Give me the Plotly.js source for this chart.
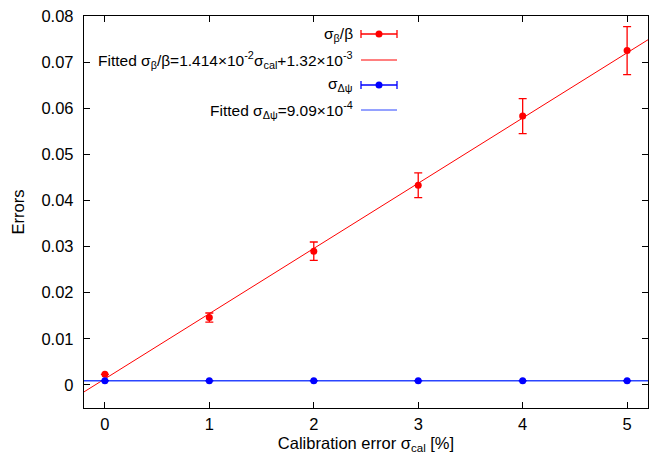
<!DOCTYPE html>
<html><head><meta charset="utf-8">
<script src="https://cdn.plot.ly/plotly-3.0.1.min.js"></script>
<style>html,body{margin:0;padding:0;background:#fff}</style>
</head><body>
<div id="chart" style="width:650px;height:454px"></div>
<script>
// Data
const calib = [0, 1, 2, 3, 4, 5];
const betaErr = [0.0023, 0.0146, 0.0290, 0.0433, 0.0583, 0.0725];
const betaErrBar = [0.0, 0.0010, 0.0020, 0.0027, 0.0038, 0.0052];
const psiErr = [0.00091, 0.00091, 0.00091, 0.00091, 0.00091, 0.00091];
const psiErrBar = [0, 0, 0, 0, 0, 0];
const fitRange = [-0.2, 5.2];
const betaSlope = 1.414e-2, betaIntercept = 1.32e-3;
const psiConst = 9.09e-4;
const legendLabels = [
  'σ<sub>β</sub>/β',
  'Fitted σ<sub>β</sub>/β=1.414×10<sup>-2</sup>σ<sub>cal</sub>+1.32×10<sup>-3</sup>',
  'σ<sub>Δψ</sub>',
  'Fitted σ<sub>Δψ</sub>=9.09×10<sup>-4</sup>'
];

const RED = '#ff0000', BLUE = '#0000ff', BLUEL = '#2b45ff';
const traces = [
  {x: fitRange, y: fitRange.map(v => betaSlope * v + betaIntercept), mode: 'lines',
   line: {color: RED, width: 1}, hoverinfo: 'skip'},
  {x: fitRange, y: fitRange.map(() => psiConst), mode: 'lines',
   line: {color: BLUEL, width: 1.3}, hoverinfo: 'skip'},
  {x: calib, y: betaErr, mode: 'markers', marker: {color: RED, size: 7},
   error_y: {type: 'data', array: betaErrBar, visible: true, color: RED, thickness: 1.3, width: 4}},
  {x: calib, y: psiErr, mode: 'markers', marker: {color: BLUE, size: 7},
   error_y: {type: 'data', array: psiErrBar, visible: true, color: BLUE, thickness: 1.3, width: 4}}
];

// legend geometry (pixels -> paper)
const L = 84, T = 16, W = 564, H = 392;
const px = p => (p - L) / W;
const py = p => (T + H - p) / H;
const rows = [34, 60, 85, 110];
const rowColors = [RED, RED, BLUE, BLUEL];
const annotations = [], shapes = [];
rows.forEach((r, i) => {
  annotations.push({xref: 'paper', yref: 'paper', x: px(355), y: py(r), xanchor: 'right', yanchor: 'middle',
    text: legendLabels[i], showarrow: false, font: {size: 15.5, color: '#000'}});
  shapes.push({type: 'line', xref: 'paper', yref: 'paper', x0: px(361), x1: px(397), y0: py(r), y1: py(r),
    line: {color: rowColors[i], width: i % 2 === 0 ? 1.3 : 1}});
  if (i % 2 === 0) {
    [361, 397].forEach(c => shapes.push({type: 'line', xref: 'paper', yref: 'paper', x0: px(c), x1: px(c),
      y0: py(r - 4), y1: py(r + 4), line: {color: rowColors[i], width: 1.3}}));
    shapes.push({type: 'circle', xref: 'paper', yref: 'paper', xsizemode: 'pixel', ysizemode: 'pixel',
      xanchor: px(379), yanchor: py(r), x0: -3.5, x1: 3.5, y0: -3.5, y1: 3.5,
      fillcolor: rowColors[i], line: {width: 0}});
  }
});

const layout = {
  width: 650, height: 454,
  margin: {l: 84, r: 2, t: 16, b: 46},
  paper_bgcolor: '#fff', plot_bgcolor: '#fff',
  showlegend: false,
  font: {family: 'Liberation Sans, Arial, sans-serif', size: 16.5, color: '#000'},
  xaxis: {range: [-0.2, 5.2], dtick: 1, tick0: 0, ticks: 'inside', ticklen: 6, tickcolor: '#000',
    showline: true, linecolor: '#000', linewidth: 1.2, mirror: 'ticks', showgrid: false, zeroline: false,
    ticklabelstandoff: 1,
    title: {text: 'Calibration error σ<sub>cal</sub> [%]', standoff: 10, font: {size: 16.5}}},
  yaxis: {range: [-0.005, 0.08], dtick: 0.01, tick0: 0, ticks: 'inside', ticklen: 6, tickcolor: '#000',
    showline: true, linecolor: '#000', linewidth: 1.2, mirror: 'ticks', showgrid: false, zeroline: false,
    ticklabelstandoff: 6,
    title: {text: 'Errors', standoff: 12, font: {size: 16.5}}},
  annotations: annotations,
  shapes: shapes
};
Plotly.newPlot('chart', traces, layout, {displayModeBar: false, staticPlot: true});
</script>
</body></html>
